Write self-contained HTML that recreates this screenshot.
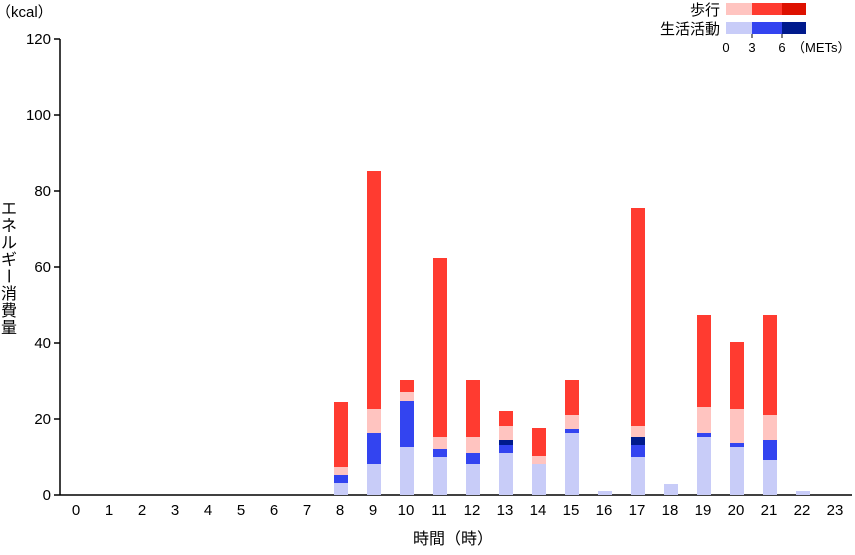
<!DOCTYPE html>
<html><head><meta charset="utf-8"><style>
body{margin:0;background:#fff;}
svg text{font-family:"Liberation Sans","Noto Sans CJK JP",sans-serif;fill:#000;}
</style></head><body>
<svg width="855" height="550" xmlns="http://www.w3.org/2000/svg">
<g stroke="#000" stroke-width="1.5">
<line x1="60" y1="39" x2="60" y2="495"/>
<line x1="60" y1="495" x2="852" y2="495"/>
<line x1="54" y1="39" x2="60" y2="39"/><line x1="54" y1="115" x2="60" y2="115"/>
<line x1="54" y1="191" x2="60" y2="191"/><line x1="54" y1="267" x2="60" y2="267"/>
<line x1="54" y1="343" x2="60" y2="343"/><line x1="54" y1="419" x2="60" y2="419"/>
<line x1="54" y1="495" x2="60" y2="495"/>
</g>
<g font-size="15" text-anchor="end">
<text x="51" y="44">120</text><text x="51" y="120">100</text><text x="51" y="196">80</text>
<text x="51" y="272">60</text><text x="51" y="348">40</text><text x="51" y="424">20</text><text x="51" y="500">0</text>
</g>
<text x="-4" y="17" font-size="15">（kcal）</text>
<g font-size="16" text-anchor="middle">
<text x="9" y="214">エ</text><text x="9" y="231">ネ</text><text x="9" y="248">ル</text><text x="9" y="265">ギ</text>
<text x="9" y="282" transform="rotate(90 9 276)">ー</text><text x="9" y="299">消</text><text x="9" y="316">費</text><text x="9" y="333">量</text>
</g>
<text x="453" y="544" font-size="16" text-anchor="middle">時間（時）</text>
<g font-size="15" text-anchor="middle" id="xl"></g>
<g id="bars"></g>
<rect x="726" y="3" width="26" height="12" fill="#ffc4c0"/><rect x="752" y="3" width="30" height="12" fill="#ff3b30"/><rect x="782" y="3" width="24" height="12" fill="#dd1100"/>
<rect x="726" y="22" width="26" height="12" fill="#c8ccf8"/><rect x="752" y="22" width="30" height="12" fill="#3344f0"/><rect x="782" y="22" width="24" height="12" fill="#001a8c"/>
<text x="720" y="15" font-size="15" text-anchor="end">歩行</text>
<text x="720" y="34" font-size="15" text-anchor="end">生活活動</text>
<g font-size="13" text-anchor="middle"><text x="726" y="52">0</text><text x="752" y="52">3</text><text x="782" y="52">6</text></g>
<text x="792" y="52" font-size="13">（METs）</text>
<line x1="752" y1="34" x2="752" y2="38" stroke="#000"/><line x1="782" y1="34" x2="782" y2="38" stroke="#000"/>
<script>
var xl=document.getElementById('xl'),bars=document.getElementById('bars'),ns="http://www.w3.org/2000/svg";
for(var i=0;i<24;i++){var t=document.createElementNS(ns,'text');t.setAttribute('x',76+33*i);t.setAttribute('y',515);t.textContent=i;xl.appendChild(t);}
var C=['#c8ccf8','#3344f0','#001a8c','#ffc4c0','#ff3b30'];
var D={8:[483,475,475,467,402],9:[464,433,433,409,171],10:[447,401,401,392,380],11:[457,449,449,437,258],
12:[464,453,453,437,380],13:[453,445,440,426,411],14:[464,464,464,456,428],15:[433,429,429,415,380],
16:[491,491,491,491,491],17:[457,445,437,426,208],18:[484,484,484,484,484],19:[437,433,433,407,315],
20:[447,443,443,409,342],21:[460,440,440,415,315],22:[491,491,491,491,491]};
for(var k in D){var cx=77+33*k,prev=495;D[k].forEach(function(y,j){if(prev-y>0){var r=document.createElementNS(ns,'rect');r.setAttribute('x',cx-7);r.setAttribute('width',14);r.setAttribute('y',y);r.setAttribute('height',prev-y);r.setAttribute('fill',C[j]);bars.appendChild(r);}prev=Math.min(prev,y);});}
</script>
</svg>
</body></html>
